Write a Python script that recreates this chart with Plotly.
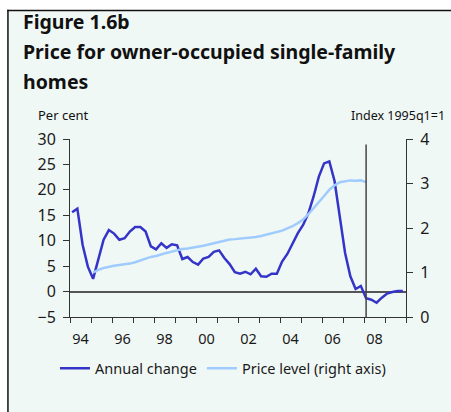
import plotly.graph_objects as go

# ---- data (quarterly, 1994Q1 .. 2009Q4) ----
start_year = 1994
annual_change = [15.6, 16.3, 9.2, 4.9, 2.5, 6.2, 10.2, 12.1,
                 11.4, 10.2, 10.5, 11.8, 12.7, 12.7, 11.8, 8.9,
                 8.3, 9.5, 8.6, 9.3, 9.1, 6.4, 6.8, 5.8,
                 5.3, 6.5, 6.8, 7.8, 8.1, 6.6, 5.4, 3.8,
                 3.5, 3.9, 3.4, 4.5, 3.0, 2.9, 3.5, 3.5,
                 5.9, 7.4, 9.5, 11.5, 13.1, 15.4, 18.7, 22.6,
                 25.2, 25.6, 21.7, 14.8, 7.6, 3.0, 0.5, 1.1,
                 -1.3, -1.6, -2.2, -1.2, -0.4, -0.1, 0.1, 0.1]
# price level index (1995Q1 .. 2008Q1)
price_start_index = 4
price_level = [1.00, 1.06, 1.10, 1.13, 1.15, 1.17, 1.18, 1.20,
               1.23, 1.27, 1.30, 1.35, 1.37, 1.41, 1.44, 1.47,
               1.50, 1.53, 1.54, 1.56, 1.57, 1.60, 1.63, 1.66,
               1.69, 1.72, 1.74, 1.75, 1.76, 1.77, 1.79, 1.80,
               1.82, 1.85, 1.88, 1.91, 1.94, 1.99, 2.04, 2.11,
               2.19, 2.31, 2.44, 2.58, 2.72, 2.86, 2.96, 3.03,
               3.05, 3.07, 3.06, 3.07, 3.03]
tick_years = list(range(1994, 2011))
label_years = [1994, 1996, 1998, 2000, 2002, 2004, 2006, 2008]
label_text = ["94", "96", "98", "00", "02", "04", "06", "08"]
forecast_start = 2008.1

x_ac = [start_year + 0.1 + 0.25 * i for i in range(len(annual_change))]
x_pl = [start_year + 0.1 + 0.25 * (i + price_start_index) for i in range(len(price_level))]

MINT = "#f0f8f5"
DARK = "#3434c8"
LIGHT = "#9fcbff"
FONT = "Noto Sans"

fig = go.Figure()
fig.add_trace(go.Scatter(x=x_ac, y=annual_change, mode="lines", name="Annual change",
                         line=dict(color=DARK, width=2.5), yaxis="y"))
fig.add_trace(go.Scatter(x=x_pl, y=price_level, mode="lines", name="Price level (right axis)",
                         line=dict(color=LIGHT, width=2.5), yaxis="y2"))

W, H = 451, 412
L, R, T, B = 70, 45.3, 139, 95.3
pw, ph = W - L - R, H - T - B

def px(x):
    return (x - L) / pw

def py(y):
    return (H - B - y) / ph

fig.update_layout(
    width=W, height=H,
    margin=dict(l=L, r=R, t=T, b=B, pad=0),
    paper_bgcolor="white", plot_bgcolor=MINT,
    font=dict(family=FONT, color="#1a1a1a"),
    showlegend=True,
    legend=dict(orientation="h", x=px(55), xanchor="left", y=py(368), yanchor="middle",
                font=dict(size=14.5, family=FONT, color="#1a1a1a"), bgcolor="rgba(0,0,0,0)",
                itemwidth=30, tracegroupgap=0),
    xaxis=dict(range=[1994, 2010], tickvals=[y + 0.5 for y in label_years], ticktext=label_text,
               ticks="outside", ticklen=9, tickcolor="rgba(0,0,0,0)",
               tickfont=dict(size=14.5, family=FONT, color="#1a1a1a"),
               showline=True, linecolor="#333", linewidth=1, showgrid=False, zeroline=False,
               minor=dict(tickvals=tick_years, ticks="outside", ticklen=5, tickcolor="#333", tickwidth=1,
                          showgrid=False)),
    yaxis=dict(range=[-5, 30], dtick=5, ticks="outside", ticklen=6, tickcolor="#333",
               tickfont=dict(size=16, family=FONT, color="#1a1a1a"), ticklabelstandoff=4,
               showline=True, linecolor="#333", linewidth=1, showgrid=False,
               zeroline=True, zerolinecolor="#555", zerolinewidth=1.5),
    yaxis2=dict(range=[0, 4], dtick=1, overlaying="y", side="right", anchor="x",
                ticks="outside", ticklen=6, tickcolor="#333",
                tickfont=dict(size=16, family=FONT, color="#1a1a1a"), ticklabelstandoff=4,
                showline=True, linecolor="#333", linewidth=1, showgrid=False, zeroline=False),
)

shapes = [
    # mint frame background
    dict(type="rect", xref="paper", yref="paper", x0=px(8), x1=px(W + 2), y0=py(H + 2), y1=py(11),
         fillcolor=MINT, line=dict(width=0), layer="below"),
    # top rule
    dict(type="line", xref="paper", yref="paper", x0=px(7.3), x1=px(W + 2), y0=py(10.8), y1=py(10.8),
         line=dict(color="#111", width=1.5)),
    # left rule
    dict(type="line", xref="paper", yref="paper", x0=px(8), x1=px(8), y0=py(10), y1=py(H + 2),
         line=dict(color="#111", width=1.5)),
    # forecast marker
    dict(type="line", xref="x", yref="y", x0=forecast_start, x1=forecast_start, y0=-5, y1=28.9,
         line=dict(color="#444", width=1.5)),
]
fig.update_layout(shapes=shapes)

ann = [
    dict(text="<b>Figure 1.6b</b>", x=px(21), y=py(22), size=19.5),
    dict(text="<b>Price for owner-occupied single-family</b>", x=px(21), y=py(52), size=19.5),
    dict(text="<b>homes</b>", x=px(21), y=py(82), size=19.5),
    dict(text="Per cent", x=px(36), y=py(115.5), size=13),
]
annotations = []
for a in ann:
    annotations.append(dict(text=a["text"], x=a["x"], y=a["y"], xref="paper", yref="paper",
                            xanchor="left", yanchor="middle", showarrow=False,
                            font=dict(size=a["size"], family=FONT, color="#111")))
annotations.append(dict(text="Index 1995q1=1", x=px(447), y=py(115.5), xref="paper", yref="paper",
                        xanchor="right", yanchor="middle", showarrow=False,
                        font=dict(size=12.5, family=FONT, color="#111")))
fig.update_layout(annotations=annotations)

fig.write_html("out.html", config={"displayModeBar": False},
               post_script="document.body.style.margin='0';document.body.style.overflow='hidden';")
